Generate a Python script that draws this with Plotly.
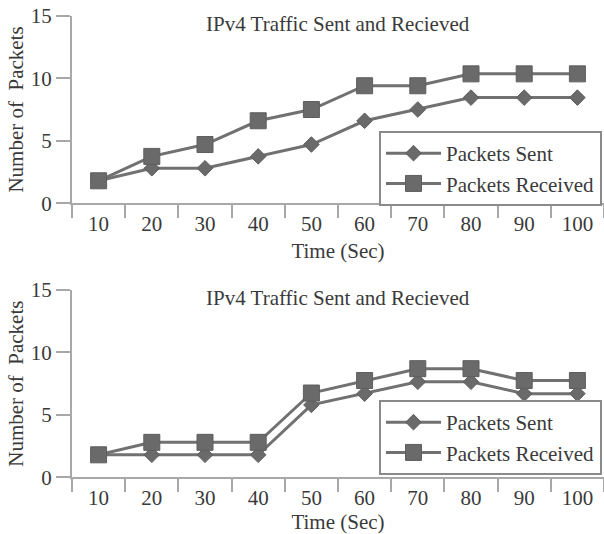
import plotly.graph_objects as go
from plotly.subplots import make_subplots

# Sample times (s) shown as category labels
times = ["10", "20", "30", "40", "50", "60", "70", "80", "90", "100"]

# Run 1
sent_1 = [1.8, 2.8, 2.8, 3.75, 4.7, 6.6, 7.5, 8.45, 8.45, 8.45]
received_1 = [1.8, 3.75, 4.7, 6.6, 7.5, 9.4, 9.4, 10.35, 10.35, 10.35]

# Run 2
sent_2 = [1.8, 1.8, 1.8, 1.8, 5.8, 6.7, 7.65, 7.65, 6.7, 6.7]
received_2 = [1.8, 2.8, 2.8, 2.8, 6.75, 7.75, 8.7, 8.7, 7.75, 7.75]

y_ticks = [0, 5, 10, 15]
chart_title = "IPv4 Traffic Sent and Recieved"

FONT = "Liberation Serif, Times New Roman, serif"
FS = 21
LINE = "#717171"
MARK = "#6a6a6a"
AXIS = "#a8a8a8"
TEXT = "#3a3a3a"

W, H = 604, 534

fig = make_subplots(rows=2, cols=1)

runs = [(sent_1, received_1, "legend"), (sent_2, received_2, "legend2")]
for i, (sent, recv, leg) in enumerate(runs, start=1):
    fig.add_trace(go.Scatter(
        x=times, y=sent, name="Packets Sent", mode="lines+markers",
        line=dict(color=LINE, width=3),
        marker=dict(symbol="diamond", size=12, color=MARK,
                    line=dict(color="#5e5e5e", width=1)),
        legend=leg), row=i, col=1)
    fig.add_trace(go.Scatter(
        x=times, y=recv, name="Packets Received", mode="lines+markers",
        line=dict(color=LINE, width=3),
        marker=dict(symbol="square", size=16, color=MARK,
                    line=dict(color="#5e5e5e", width=1)),
        legend=leg), row=i, col=1)

# plot-area placement in pixels: (top, bottom)
areas = [(15.7, 203.3), (290.0, 477.3)]
x0, x1 = 72, 604

for i, (top, bot) in enumerate(areas, start=1):
    xa = "xaxis" if i == 1 else f"xaxis{i}"
    ya = "yaxis" if i == 1 else f"yaxis{i}"
    fig.layout[xa].update(
        type="category", range=[-0.5, 9.5], domain=[x0 / W, x1 / W],
        tickson="boundaries", ticks="outside", ticklen=13, tickwidth=2,
        tickcolor=AXIS, showline=True, linecolor=AXIS, linewidth=2,
        showgrid=False, zeroline=False,
        tickfont=dict(family=FONT, size=FS, color=TEXT),
        title=dict(text="Time (Sec)", standoff=9,
                   font=dict(family=FONT, size=FS, color=TEXT)))
    fig.layout[ya].update(
        range=[0, 15], domain=[(H - bot) / H, (H - top) / H],
        tickvals=y_ticks, ticks="outside", ticklen=14, tickwidth=2,
        tickcolor=AXIS, showline=True, linecolor=AXIS, linewidth=2,
        showgrid=False, zeroline=False,
        tickfont=dict(family=FONT, size=FS, color=TEXT),
        title=dict(text="Number of  Packets", standoff=1,
                   font=dict(family=FONT, size=FS, color=TEXT)))
    fig.add_annotation(
        text=chart_title, xref="paper", yref="paper",
        x=(x0 + x1) / 2 / W, y=(H - (top + 8)) / H,
        xanchor="center", yanchor="middle", showarrow=False,
        font=dict(family=FONT, size=FS, color=TEXT))

legend_style = dict(
    xanchor="right", yanchor="bottom", bgcolor="white",
    bordercolor="#8a8a8a", borderwidth=2, itemwidth=55,
    font=dict(family=FONT, size=FS, color=TEXT))

fig.update_layout(
    width=W, height=H,
    margin=dict(l=0, r=0, t=0, b=0, autoexpand=False),
    plot_bgcolor="white", paper_bgcolor="white",
    showlegend=True,
    legend=dict(x=602 / W, y=(H - 206) / H, **legend_style),
    legend2=dict(x=602 / W, y=(H - 475) / H, **legend_style),
)

fig.write_html("out.html")
